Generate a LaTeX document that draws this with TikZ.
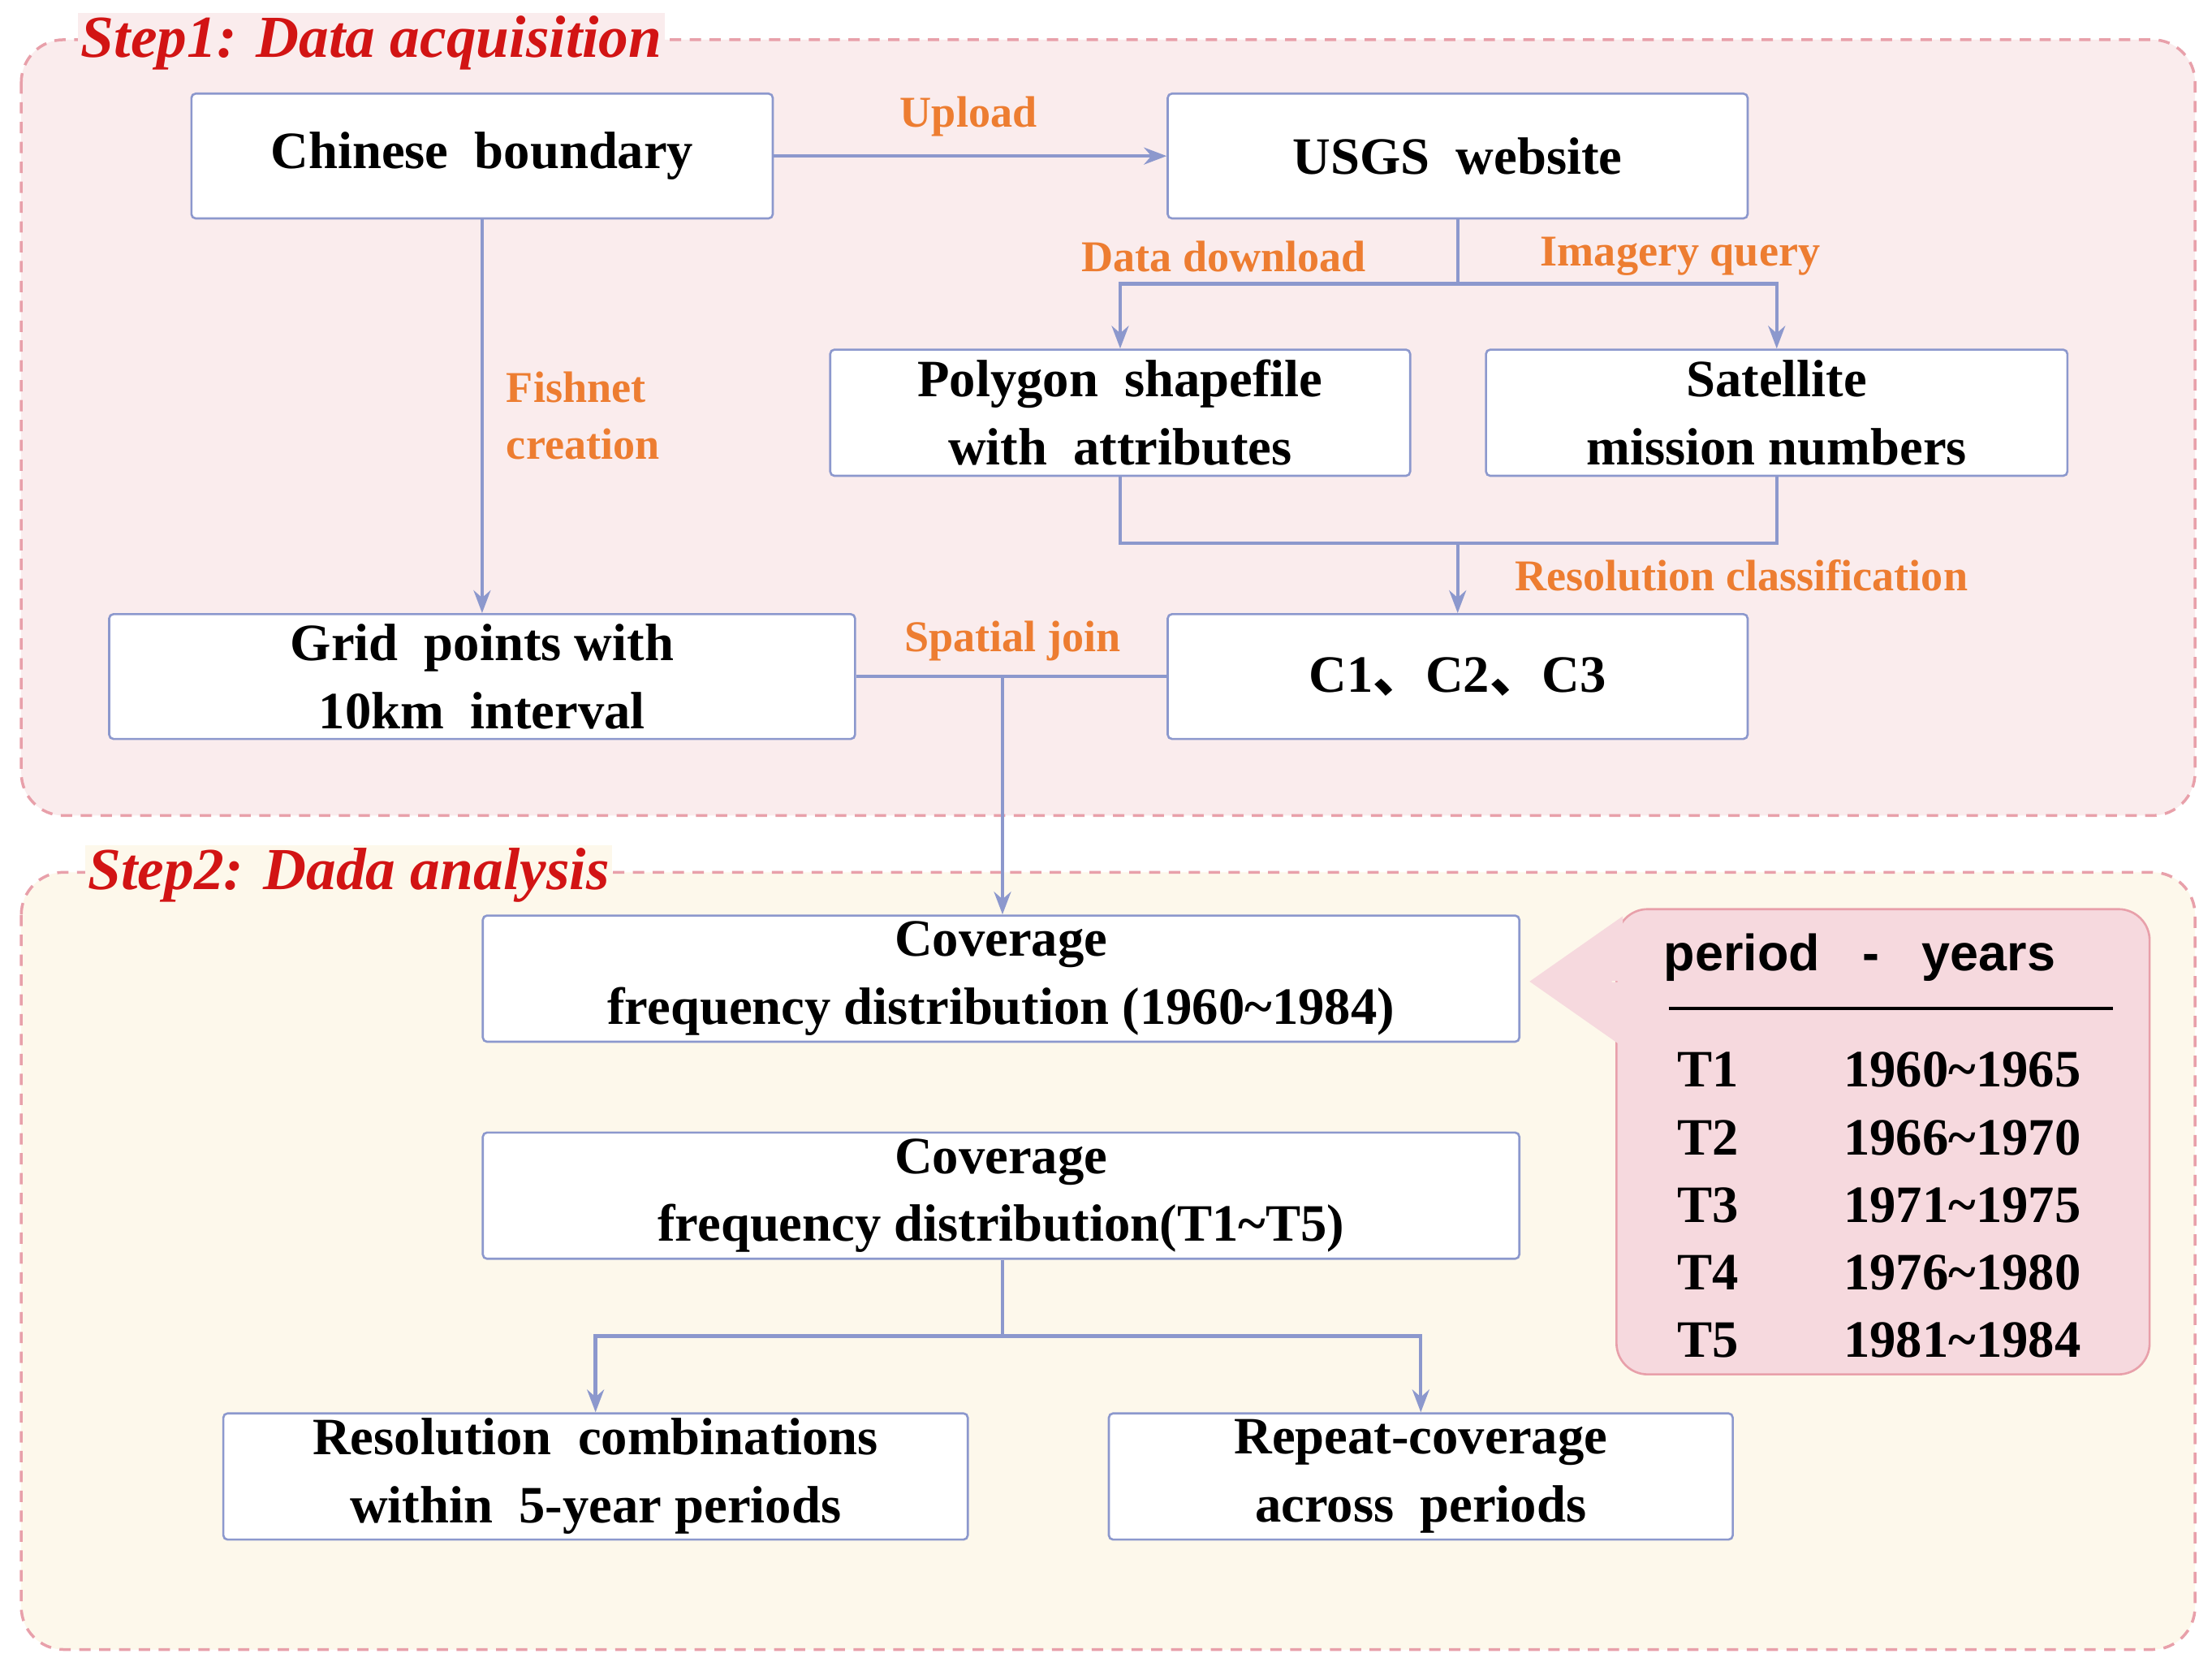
\documentclass[tikz,border=0pt]{standalone}
\usepackage{fontspec}
\setmainfont{Liberation Serif}
\newfontfamily\sansf{Liberation Sans}
\newfontfamily\cjkf{Noto Sans CJK SC}
\usetikzlibrary{shapes.arrows,arrows.meta}
\definecolor{ln}{RGB}{140,152,205}
\definecolor{org}{RGB}{237,125,49}
\definecolor{pk}{RGB}{250,236,237}
\definecolor{yl}{RGB}{253,248,235}
\definecolor{bd}{RGB}{232,160,170}
\definecolor{tb}{RGB}{246,217,222}
\definecolor{ttl}{RGB}{210,20,20}
\begin{document}
\begin{tikzpicture}[x=1pt,y=-1pt,
  box/.style={draw=ln,line width=1.5pt,fill=white,rounded corners=3pt,align=center,inner sep=0pt,font=\fontsize{37}{48}\selectfont\bfseries},
  lab/.style={text=org,font=\fontsize{31}{40}\selectfont\bfseries,inner sep=0pt},
  con/.style={draw=ln,line width=2.5pt},
  arr/.style={con,-{Stealth[length=16pt,width=12pt]}},
  reg/.style={draw=bd,dashed,line width=2pt,dash pattern=on 8pt off 6pt,rounded corners=30pt},
  ttlst/.style={text=ttl,font=\fontsize{42}{48}\selectfont\bfseries\itshape,inner sep=2pt,anchor=west}]
\useasboundingbox (0,0) rectangle (1560,1178);
\fill[white] (0,0) rectangle (1560,1178);
\path[reg,fill=pk] (15,28) rectangle (1548,575);
\path[reg,fill=yl] (15,615) rectangle (1548,1163);
\node[ttlst,fill=pk] at (55,30) {Step1: Data acquisition};
\node[ttlst,fill=yl] at (60,617) {Step2: Dada analysis};
% boxes
\node[box,minimum width=410pt,minimum height=88pt] (cb) at (340,110) {Chinese\ \ boundary};
\node[box,minimum width=409pt,minimum height=88pt] (us) at (1028,110) {USGS\ \ website};
\node[box,minimum width=409pt,minimum height=89pt] (po) at (790,291) {Polygon\ \ shapefile\\with\ \ attributes};
\node[box,minimum width=410pt,minimum height=89pt] (sa) at (1253,291) {Satellite\\mission numbers};
\node[box,minimum width=526pt,minimum height=88pt] (gr) at (340,477) {Grid\ \ points with\\10km\ \ interval};
\node[box,minimum width=409pt,minimum height=88pt] (cc) at (1028,477) {C1{\cjkf\bfseries 、}C2{\cjkf\bfseries 、}C3};
\node[box,minimum width=731pt,minimum height=89pt] (cv1) at (706,690) {Coverage\\frequency distribution (1960\textasciitilde 1984)};
\node[box,minimum width=731pt,minimum height=89pt] (cv2) at (706,843) {Coverage\\frequency distribution(T1\textasciitilde T5)};
\node[box,minimum width=525pt,minimum height=89pt] (rc) at (420,1041) {Resolution\ \ combinations\\within\ \ 5-year periods};
\node[box,minimum width=440pt,minimum height=89pt] (rp) at (1002,1041) {Repeat-coverage\\across\ \ periods};
% connectors
\draw[arr] (cb.east) -- (us.west);
\node[lab] at (683,82) {Upload};
\coordinate (j1) at (1028,200);
\draw[con] (us.south) -- (j1);
\draw[arr] (j1) -| (po.north);
\draw[arr] (j1) -| (sa.north);
\node[lab] at (863,181) {Data download};
\node[lab] at (1185,181) {Imagery query};
\draw[arr] (cb.south) -- (gr.north -| cb.south);
\node[lab,align=left,anchor=west] at (357,293) {Fishnet\\creation};
\coordinate (j2) at (1028,383);
\draw[con] (po.south) |- (j2) -| (sa.south);
\draw[arr] (j2) -- (cc.north);
\node[lab] at (1228,406) {Resolution classification};
\coordinate (j3) at (707,477);
\draw[con] (gr.east) -- (cc.west);
\draw[arr] (j3) -- (cv1.north -| j3);
\node[lab] at (714,452) {Spatial join};
\coordinate (j4) at (707,942);
\draw[con] (cv2.south -| j4) -- (j4);
\draw[arr] (j4) -| (rc.north);
\draw[arr] (j4) -| (rp.north);
% table
\node[draw=bd,line width=1.5pt,fill=tb,rounded corners=22pt,minimum width=376pt,minimum height=328pt] (tab) at (1328,805) {};
\node[single arrow,shape border rotate=180,fill=tb,minimum height=58pt,minimum width=92pt,single arrow head extend=22pt,single arrow tip angle=70,inner sep=0pt] (ba) at (1108,692) {};
\node[font=\sansf\fontsize{36}{40}\selectfont\bfseries,anchor=west] (ph) at (1170,675) {period\ \ \ -\ \ \ years};
\draw[line width=2pt] (1177,711) -- (1490,711);
\foreach \t/\y/\yr in {T1/754/1960\textasciitilde 1965,T2/802/1966\textasciitilde 1970,T3/850/1971\textasciitilde 1975,T4/897/1976\textasciitilde 1980,T5/945/1981\textasciitilde 1984}{
  \node[font=\fontsize{37}{40}\selectfont\bfseries,anchor=west,inner sep=0pt] at (1183,\y) {\t};
  \node[font=\fontsize{37}{40}\selectfont\bfseries,anchor=west,inner sep=0pt] at (1300,\y) {\yr};
}
\end{tikzpicture}
\end{document}
